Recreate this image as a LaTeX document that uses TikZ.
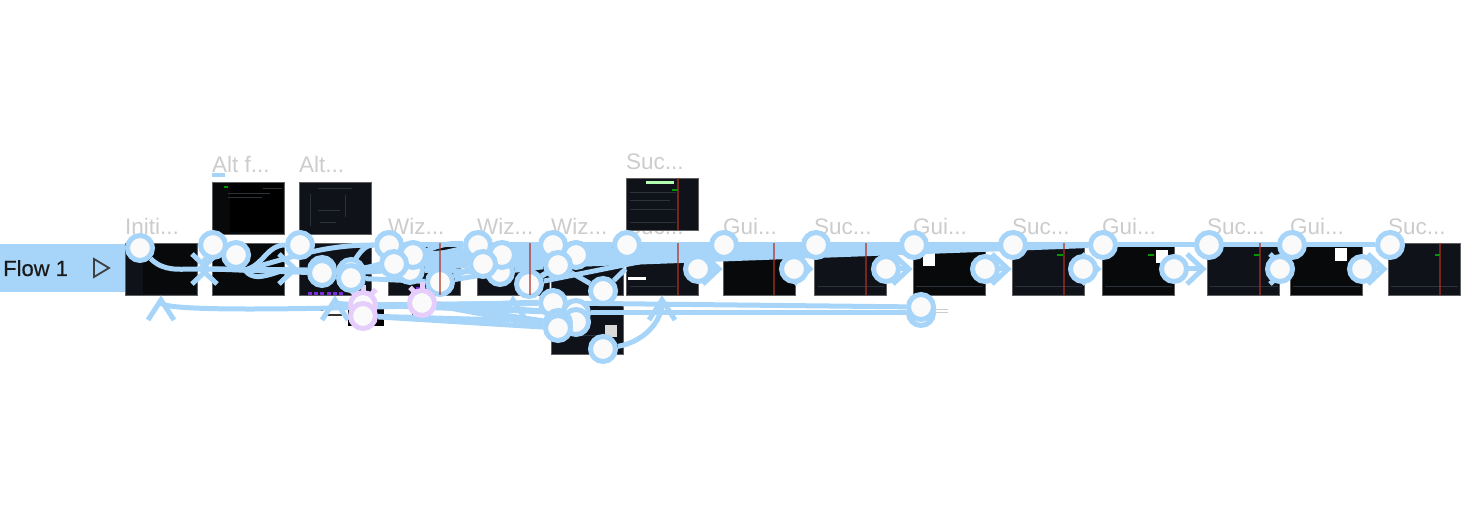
\documentclass[tikz,border=0pt]{standalone}
\usepackage{fontspec}
\setmainfont{Liberation Sans}
\newfontfamily\tabfont[FakeBold=0.35]{Liberation Sans}
\usetikzlibrary{arrows.meta,backgrounds}
\definecolor{flowblue}{HTML}{A6D5F9}
\definecolor{flowpink}{HTML}{E5CEFB}
\definecolor{flowdot}{HTML}{7B2BD9}
\definecolor{labelgray}{HTML}{CCCCCC}
\definecolor{navyframe}{HTML}{0F1219}
\definecolor{blackframe}{HTML}{08090B}
\definecolor{markred}{HTML}{B03020}
\definecolor{rowgray}{HTML}{2C3239}
\tikzset{
  frame/.style={draw=gray!75!black,line width=.8pt,fill=navyframe,inner sep=0pt,minimum width=72pt,minimum height=52pt},
  darkframe/.style={frame,fill=blackframe},
  title/.style={text=labelgray,font=\fontsize{22.5}{25}\selectfont,anchor=base west,inner sep=0pt},
  hot/.style={circle,draw=flowblue,fill=white!98!black,line width=5pt,minimum size=25pt,inner sep=0pt},
  hotpink/.style={hot,draw=flowpink},
  link/.style={draw=flowblue,line width=5pt},
  pinklink/.style={draw=flowpink,line width=5pt},
  arrowlink/.style={link,-{Straight Barb[length=16pt,width=30pt]}},
  uparrow/.style={link,-{Straight Barb[length=20pt,width=26pt]}},
  redmark/.style={draw=markred,line width=2.5pt,opacity=.65},
  row/.style={fill=rowgray},
}
\begin{document}
\begin{tikzpicture}[x=1pt,y=-1pt]
  \useasboundingbox (0,0) rectangle (1478,510);
  \begin{scope}[on background layer]
    \node[title] at (125,235) {Initi...};
    \node[title] at (212,235) {Sam...};
    \node[title] at (299,235) {Wiz...};
    \node[title] at (388,235) {Wiz...};
    \node[title] at (477,235) {Wiz...};
    \node[title] at (551,235) {Wiz...};
    \node[title] at (626,235) {Suc...};
    \node[title] at (723,235) {Gui...};
    \node[title] at (814,235) {Suc...};
    \node[title] at (913,235) {Gui...};
    \node[title] at (1012,235) {Suc...};
    \node[title] at (1102,235) {Gui...};
    \node[title] at (1207,235) {Suc...};
    \node[title] at (1290,235) {Gui...};
    \node[title] at (1388,235) {Suc...};
    \node[title] at (212,173) {Alt f...};
    \node[title] at (299,173) {Alt...};
    \node[title] at (626,170) {Suc...};
    \fill[flowblue] (212,173) rectangle (225,177);
    \node[frame] (f1) at (161,269) {};
    \node[darkframe] (f2) at (248,269) {};
    \node[frame] (f3) at (335,269) {};
    \node[frame] (f4) at (424,269) {};
    \node[frame] (f5) at (513,269) {};
    \node[frame] (f6) at (587,269) {};
    \node[frame] (f7) at (662,269) {};
    \node[darkframe] (f8) at (759,269) {};
    \node[frame] (f9) at (850,269) {};
    \node[darkframe] (f10) at (949,269) {};
    \node[frame] (f11) at (1048,269) {};
    \node[darkframe] (f12) at (1138,269) {};
    \node[frame] (f13) at (1243,269) {};
    \node[darkframe] (f14) at (1326,269) {};
    \node[frame] (f15) at (1424,269) {};
    \node[darkframe] (altA) at (248,208) {};
    \node[frame] (altB) at (335,208) {};
    \node[frame] (altC) at (662,204) {};
    \node[frame] (low) at (587,328) {};
    % small frames under the row
    \fill[black] (348,305) rectangle (384,326);
    \fill[black] (412,305) rectangle (430,316);
    \fill[black!80] (307,309) rectangle (323,311);
    \fill[black!80] (326,314) rectangle (342,316);
    \fill[labelgray] (918,309) rectangle (948,310);
    \fill[labelgray] (918,312) rectangle (948,313);
    % screen details
    \fill[blackframe] (143,244) rectangle (196,294);
    \fill[black] (230,183) rectangle (283,232);
    \fill[row] (228,193) rectangle (270,194);
    \fill[row] (228,197) rectangle (262,198);
    \fill[row] (263,188) rectangle (282,189);
    \fill[green!60!black] (224,186) rectangle (228,188);
    \fill[row] (318,188) rectangle (352,189);
    \fill[row] (310,194) rectangle (311,226);
    \fill[row] (345,195) rectangle (346,217);
    \fill[row] (318,210) rectangle (340,211);
    \fill[row] (320,222) rectangle (336,223);
    \fill[green!30] (646,181) rectangle (674,184);
    \fill[green!60!black] (672,189) rectangle (678,191);
    \fill[row] (630,192) rectangle (676,193);
    \fill[row] (630,200) rectangle (670,201);
    \fill[row] (630,209) rectangle (676,210);
    \fill[row] (630,222) rectangle (676,223);
    \fill[white!85!black] (605,325) rectangle (617,337);
    \fill[row] (578,335) rectangle (600,336);
    \fill[white] (628,277) rectangle (646,280);
    \fill[row] (630,286) rectangle (676,287);
    \fill[row] (818,286) rectangle (884,287);
    \fill[row] (916,286) rectangle (983,287);
    \fill[row] (1015,286) rectangle (1082,287);
    \fill[row] (1105,286) rectangle (1172,287);
    \fill[row] (1210,286) rectangle (1278,287);
    \fill[row] (1293,286) rectangle (1360,287);
    \fill[row] (1391,286) rectangle (1458,287);
    \fill[white] (923,252) rectangle (935,266);
    \fill[white] (1156,250) rectangle (1168,263);
    \fill[white] (1335,248) rectangle (1347,261);
    \fill[green!60!black] (1057,254) rectangle (1063,256);
    \fill[green!60!black] (1148,254) rectangle (1154,256);
    \fill[green!60!black] (1254,254) rectangle (1260,256);
    \fill[green!60!black] (1435,254) rectangle (1440,256);
    % purple dots
    \fill[flowdot] (308,292) rectangle (312,295);
    \fill[flowdot] (314,292) rectangle (318,295);
    \fill[flowdot] (320,292) rectangle (324,295);
    \fill[flowdot] (327,292) rectangle (331,295);
    \fill[flowdot] (333,292) rectangle (337,295);
    \fill[flowdot] (339,292) rectangle (343,295);
    \fill[flowdot] (356,292) rectangle (360,295);
    \fill[flowdot] (363,292) rectangle (367,295);
    \fill[flowdot] (416,287) rectangle (420,290);
    \fill[flowdot] (424,287) rectangle (428,290);
  \end{scope}
  % tab
  \node[fill=flowblue,inner sep=0pt,minimum width=125pt,minimum height=48pt] (tab) at (62.5,268) {};
  \node[anchor=base west,inner sep=0pt,font=\tabfont\fontsize{22}{24}\selectfont,text=black!90] (tabtext) at (3,276) {Flow 1};
  \draw[line width=1.8pt,draw=black!75,line join=miter] (94,259) -- (109,268) -- (94,277) -- cycle;
  % hotspots
  \node[hot] (tInit) at (140,248) {};
  \node[hot] (tB) at (389,245) {};
  \node[hot] (tC) at (478,245) {};
  \node[hot] (tD) at (553,245) {};
  \node[hot] (tE) at (627,245) {};
  \node[hot] (tF) at (724,245) {};
  \node[hot] (tG) at (816,245) {};
  \node[hot] (tH) at (914,245) {};
  \node[hot] (tI) at (1013,245) {};
  \node[hot] (tJ) at (1103,245) {};
  \node[hot] (tK) at (1209,245) {};
  \node[hot] (tL) at (1292,245) {};
  \node[hot] (tM) at (1390,245) {};
  \node[hot] (tCam) at (213,245) {};
  \node[hot] (tA) at (300,245) {};
  \node[hot] (sA) at (236,255) {};
  \node[hot] (vF) at (322,270) {};
  \node[hot] (vC) at (351,272) {};
  \node[hot] (vD) at (410,270) {};
  \node[hot] (vE) at (500,272) {};
  \node[hot] (vA) at (322,273) {};
  \node[hot] (vB) at (351,278) {};
  \node[hot] (sB) at (413,255) {};
  \node[hot] (uB) at (394,264) {};
  \node[hot] (sC) at (502,255) {};
  \node[hot] (uC) at (483,264) {};
  \node[hot] (sD) at (576,255) {};
  \node[hot] (uD) at (558,265) {};
  \node[hot] (wB) at (440,282) {};
  \node[hot] (wC) at (529,284) {};
  \node[hot] (wD) at (603,291) {};
  \node[hot] (mE) at (698,269) {};
  \node[hot] (mF) at (794,269) {};
  \node[hot] (mG) at (886,269) {};
  \node[hot] (mH) at (985,269) {};
  \node[hot] (mI) at (1083,269) {};
  \node[hot] (mJ) at (1174,269) {};
  \node[hot] (mK) at (1280,269) {};
  \node[hot] (mL) at (1362,269) {};
  \node[hot] (bA) at (553,303) {};
  \node[hot] (bB) at (576,313) {};
  \node[hot] (bC) at (576,322) {};
  \node[hot] (bD) at (558,323) {};
  \node[hot] (bE) at (558,328) {};
  \node[hot] (bF) at (603,349) {};
  \node[hot] (bH) at (921,313) {};
  \node[hot] (bG) at (921,307) {};
  \node[hotpink] (pA) at (363,305) {};
  \node[hotpink] (pB) at (363,316) {};
  \node[hotpink] (pC) at (422,303) {};
  \coordinate (pAtop) at (363,285);
  \coordinate (pCtop) at (422,282);
  \coordinate (mKback) at (1268,269);
  \begin{scope}[on background layer]
    % top band
    \draw[link] (tC) to (tM);
    \draw[link] (tD) to (tL);
    \draw[link] (uD) to (tJ);
    \draw[link] (sD) to (tI);
    \draw[link] (uC) to (tH);
    \draw[link] (sC) to (tG);
    \draw[link] (uB) to (tF);
    \draw[link] (sB) to (tE);
    \draw[link] (tF) to (tK);
    \draw[link] (tB) to (tC);
    \draw[link] (uD) to (tE);
    \draw[link] (sD) to (tF);
    \draw[link] (uD) to (tI);
    \draw[link] (sD) to (tH);
    \draw[link] (uC) to (tI);
    \draw[link] (uD) to (tG);
    \draw[link] (uD) to (tH);
    \draw[link] (uD) to (tF);
    \draw[link] (sD) to (tE);
    \draw[link] (tD) to (uD);
    \draw[link] (sC) to (sD);
    \draw[link] (sC) to (tE);
    \draw[link] (uC) to (tE);
    \draw[link] (uC) to (uD);
    \draw[link] (uC) to (sD);
    \draw[link] (vE) to (uD);
    \draw[link] (vE) to (sD);
    \draw[link] (vE) to (tE);
    \draw[link] (uB) to (uC);
    \draw[link] (uB) to (tD);
    \draw[link] (uB) to (tE);
    \draw[link] (uB) to (tC);
    \draw[link] (vD) to (vE);
    \draw[link] (vD) to (uC);
    \draw[link] (vD) to (sC);
    \draw[link] (vD) to (tD);
    \draw[link] (vD) to (tC);
    \draw[link] (sB) to (uC);
    \draw[link] (sB) to (tD);
    \draw[link] (sB) to (sC);
    \draw[link] (uB) to (sC);
    \draw[link] (wB) to (uC);
    \draw[link] (wB) to (vE);
    \draw[link] (wB) to (sC);
    \draw[link] (wC) to (uD);
    \draw[link] (wC) to (sD);
    \draw[link] (wC) to (tF);
    \draw[link] (wD) to (uD);
    \draw[link] (wD) to (f7.west);
    \draw[link] (vC) to (vD);
    \draw[link] (vC) to (uB);
    \draw[link] (vC) to (sB);
    \draw[link] (vA) to (vD);
    \draw[link] (vA) to (uB);
    \draw[link] (vB) to (wB);
    % left part
    \draw[link] (tInit) to[out=-45,in=180] (f1.east);
    \draw[arrowlink] (f1.east) to (f2.west);
    \draw[arrowlink] (tCam) to[out=-120,in=0] (f1.east);
    \draw[arrowlink] (sA) to[out=-60,in=180] (f3.west);
    \draw[link] (f2.west) to (vA);
    \draw[link] (f2.west) to (vC);
    \draw[link] (f1.east) to (vF);
    \draw[link] (tA) to[out=180,in=20] (f2.center);
    \draw[link] (tB) to[out=180,in=15] (f2.center);
    \draw[link] (tC) to[out=175,in=0] (vC);
    \draw[link] (tB) to[out=180,in=0] (vA);
    % chevrons on the right
    \draw[arrowlink] (mE.center) to (f8.west);
    \draw[arrowlink] (mF.center) to (f9.west);
    \draw[arrowlink] (mG.center) to (f10.west);
    \draw[arrowlink] (mH.center) to (f11.west);
    \draw[arrowlink] (mI.center) to (f12.west);
    \draw[arrowlink] (mJ.center) to (f13.west);
    \draw[arrowlink] (mKback) to (f14.west);
    \draw[arrowlink] (mL.center) to (f15.west);
    % lower lines
    \draw[link] (bG) to (bA);
    \draw[link] (bH) to (bB);
    \draw[uparrow] (bA) to[out=178,in=-90,looseness=.15] (f1.south);
    \draw[uparrow] (bA) to[out=180,in=-90,looseness=.15] (f3.south);
    \draw[uparrow] (bA) to[out=180,in=-90] (f5.south);
    \draw[uparrow] (bF) to[out=10,in=-90] (f7.south);
    \draw[link] (pA) to (bA);
    \draw[link] (pA) to (bB);
    \draw[link] (pB) to (bC);
    \draw[link] (pB) to (bE);
    \draw[link] (pC) to (bB);
    \draw[link] (pC) to (bD);
    \draw[link] (pC) to (bE);
    \draw[pinklink,-{Straight Barb[length=12pt,width=26pt]}] (pAtop) to (pA.center);
    \draw[pinklink,-{Straight Barb[length=12pt,width=24pt]}] (pCtop) to (pC.center);
  \end{scope}
  % red markers go over everything
  \draw[redmark] (f4.north -| 440,0) -- (f4.south -| 440,0);
  \draw[redmark] (f5.north -| 530,0) -- (f5.south -| 530,0);
  \draw[redmark] (f7.north -| 678,0) -- (f7.south -| 678,0);
  \draw[redmark] (altC.north -| 678,0) -- (altC.south -| 678,0);
  \draw[redmark] (f8.north -| 774,0) -- (f8.south -| 774,0);
  \draw[redmark] (f9.north -| 866,0) -- (f9.south -| 866,0);
  \draw[redmark] (f11.north -| 1064,0) -- (f11.south -| 1064,0);
  \draw[redmark] (f13.north -| 1260,0) -- (f13.south -| 1260,0);
  \draw[redmark] (f15.north -| 1440,0) -- (f15.south -| 1440,0);
\end{tikzpicture}
\end{document}
